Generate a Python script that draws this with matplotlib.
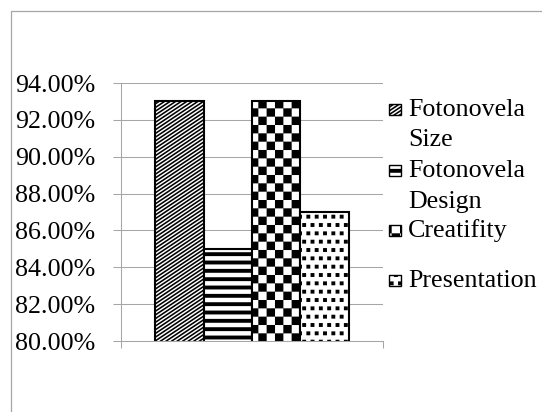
import numpy as np
import matplotlib
matplotlib.use('Agg')
import matplotlib.pyplot as plt
import matplotlib.hatch as mhatch
from matplotlib.path import Path
from matplotlib.patches import Rectangle
from matplotlib.ticker import PercentFormatter

# dados
categorias = ['Fotonovela\nSize', 'Fotonovela\nDesign', 'Creatifity', 'Presentation']
valores = [0.93, 0.85, 0.93, 0.87]
y_ticks = [0.80, 0.82, 0.84, 0.86, 0.88, 0.90, 0.92, 0.94]

# estilo de cada barra (padroes tipo Excel)
hatches = ['O', '--', '**', 'oo']
hatch_lw = [1.15, 2.8, 0.05, 1.0]


# diagonal larga (inclinacao 2/3): substitui o padrao 'O'
class DiagonalHatch(mhatch.HatchPatternBase):
    def __init__(self, hatch, density):
        n = hatch.count('O')
        self.nx, self.ny = 18 * n, 27 * n
        self.ks = list(range(-self.nx - 1, self.ny + 2)) if n else []
        self.num_vertices = 2 * len(self.ks)

    def set_vertices_and_codes(self, vertices, codes):
        for i, k in enumerate(self.ks):
            c = k / self.ny
            vertices[2 * i] = [0.0, c]
            vertices[2 * i + 1] = [1.0, c + self.nx / self.ny]
            codes[2 * i] = Path.MOVETO
            codes[2 * i + 1] = Path.LINETO


# xadrez: substitui o padrao '*'
class XadrezHatch(mhatch.HatchPatternBase):
    def __init__(self, hatch, density):
        self.n = hatch.count('*') * density
        self.num_vertices = (self.n * self.n // 2) * 5

    def set_vertices_and_codes(self, vertices, codes):
        s = 1.0 / self.n
        k = 0
        for i in range(self.n):
            for j in range(self.n):
                if (i + j) % 2:
                    continue
                x0, y0 = i * s, j * s
                vertices[k:k + 5] = [[x0, y0], [x0 + s, y0], [x0 + s, y0 + s],
                                     [x0, y0 + s], [x0, y0]]
                codes[k:k + 5] = [Path.MOVETO, Path.LINETO, Path.LINETO,
                                  Path.LINETO, Path.CLOSEPOLY]
                k += 5


# pontinhos quadrados: substitui o padrao 'o'
class PontosHatch(mhatch.Shapes):
    size = 0.15
    filled = True

    def __init__(self, hatch, density):
        self.num_rows = hatch.count('o') * density
        self.shape_vertices = np.array([[-1, -1], [1, -1], [1, 1], [-1, 1], [-1, -1]], float)
        self.shape_codes = np.array([Path.MOVETO, Path.LINETO, Path.LINETO,
                                     Path.LINETO, Path.CLOSEPOLY], Path.code_type)
        super().__init__(hatch, density)


mhatch._hatch_types[:] = [t for t in mhatch._hatch_types
                          if t not in (mhatch.Stars, mhatch.SmallCircles, mhatch.LargeCircles)] \
    + [DiagonalHatch, XadrezHatch, PontosHatch]

plt.rcParams['font.family'] = ['Liberation Serif', 'DejaVu Serif']
plt.rcParams['font.size'] = 18.7

W, H = 542, 412
cinza = '#a6a6a6'

fig = plt.figure(figsize=(W / 100, H / 100), dpi=100)
ax = fig.add_axes([121 / W, 1 - 341 / H, (383 - 121) / W, (341 - 83) / H])

barras = ax.bar(range(len(valores)), valores, width=1.0, color='white',
                edgecolor='black', linewidth=1.5, zorder=2)
for b, h, lw in zip(barras, hatches, hatch_lw):
    b.set_hatch(h)
    if hasattr(b, 'set_hatch_linewidth'):
        b.set_hatch_linewidth(lw)

ax.set_ylim(y_ticks[0], y_ticks[-1])
ax.set_xlim(-1.205, len(valores) - 1 + 1.205)
ax.set_yticks(y_ticks)
ax.yaxis.set_major_formatter(PercentFormatter(xmax=1, decimals=2))
ax.tick_params(axis='y', direction='out', length=5.8, width=0.75, color=cinza,
               pad=13, labelsize=18.7, labelcolor='black')
ax.set_xticks(ax.get_xlim())
ax.set_xticklabels([])
ax.tick_params(axis='x', direction='out', length=5, width=0.75, color=cinza)
ax.yaxis.grid(True, color=cinza, linewidth=0.75)
ax.set_axisbelow(True)
for lado in ['top', 'right']:
    ax.spines[lado].set_visible(False)
for lado in ['left', 'bottom']:
    ax.spines[lado].set_color(cinza)
    ax.spines[lado].set_linewidth(0.75)

# moldura externa do grafico
fig.add_artist(Rectangle((10.5 / W, -0.5), 2, 1.5 - 10.5 / H, transform=fig.transFigure,
                         fill=False, edgecolor=cinza, linewidth=0.9))

# legenda (montada a mao para alinhar o simbolo com a primeira linha)
leg_base = [116, 177, 237, 287]
passo_linha = 30.5
for cat, h, lw, yb in zip(categorias, hatches, hatch_lw, leg_base):
    r = Rectangle((389 / W, 1 - (yb - 1) / H), 12 / W, 11 / H, transform=fig.transFigure,
                  facecolor='white', edgecolor='black', linewidth=1.0, hatch=h)
    if hasattr(r, 'set_hatch_linewidth'):
        r.set_hatch_linewidth(lw)
    fig.add_artist(r)
    for k, linha in enumerate(cat.split('\n')):
        fig.text(408 / W, 1 - (yb + k * passo_linha) / H, linha, ha='left',
                 va='baseline', fontsize=18.7)

fig.savefig('out.png', dpi=100)
